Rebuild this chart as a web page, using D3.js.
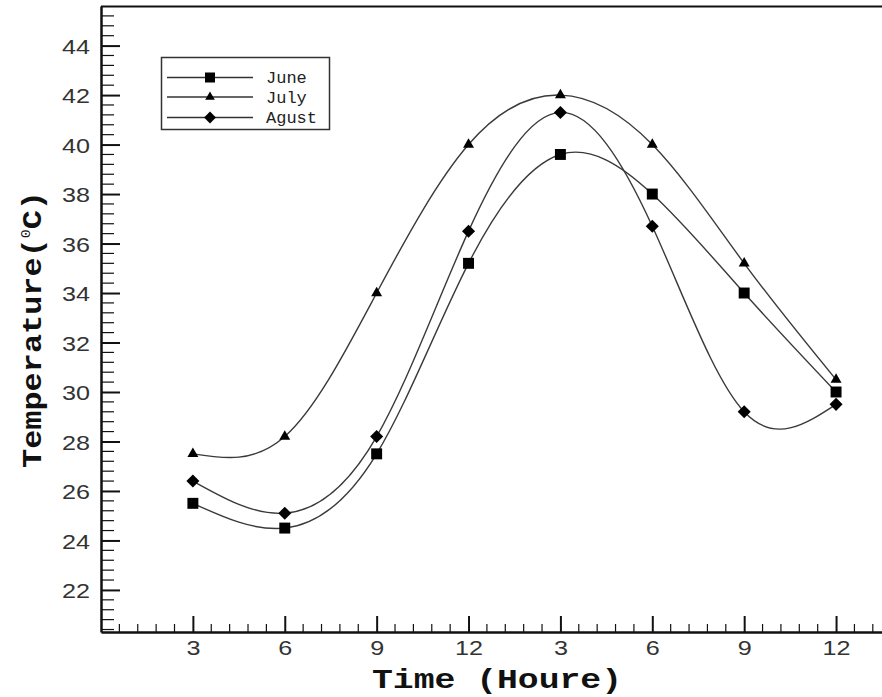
<!DOCTYPE html>
<html lang="en">
  <head>
    <meta charset="utf-8">
    <title>Temperature by hour</title>
    <script src="https://d3js.org/d3.v7.min.js"></script>
    <style>
      body { margin: 0; background: #fff; }
    </style>
  </head>
  <body>
    <svg id="chart" width="882" height="697"></svg>
    <script type="text/javascript">
      // hours on a running clock, labelled 3..12 twice
      var hours = [3, 6, 9, 12, 15, 18, 21, 24];
      var june = [25.5, 24.5, 27.5, 35.2, 39.6, 38.0, 34.0, 30.0];
      var july = [27.5, 28.2, 34.0, 40.0, 42.0, 40.0, 35.2, 30.5];
      var agust = [26.4, 25.1, 28.2, 36.5, 41.3, 36.7, 29.2, 29.5];
      var seriesNames = ["June", "July", "Agust"];
      var xTicks = [3, 6, 9, 12, 15, 18, 21, 24];
      var yTicks = [22, 24, 26, 28, 30, 32, 34, 36, 38, 40, 42, 44];

      var svg = d3.select("svg#chart");

      var xScale = d3.scaleLinear().domain([0, 25.5]).range([101, 882]);
      var yScale = d3.scaleLinear().domain([20.3, 45.6]).range([632, 6]);

      // frame: top line
      svg.append("line").attr("x1", 101).attr("x2", 882).attr("y1", 6.5).attr("y2", 6.5)
        .attr("stroke", "#111").attr("stroke-width", 2);

      // minor ticks
      var xMinor = d3.range(1, 43).map(i => +(i * 0.6).toFixed(1)).filter(v => v % 3 != 0);
      var yMinor = d3.range(1, 64).map(i => +(20.0 + i * 0.4).toFixed(1)).filter(v => v >= 20.4 && v <= 45.6 && Math.round(v * 10) % 20 != 0);

      var xAxis = d3.axisBottom(xScale).tickValues(xTicks).tickSize(-16).tickSizeOuter(0)
        .tickFormat(d => ((d - 1) % 12) + 1).tickPadding(19);
      var yAxis = d3.axisLeft(yScale).tickValues(yTicks).tickSize(-19).tickSizeOuter(0).tickPadding(11);

      svg.append("g").attr("class", "minor")
        .selectAll("line").data(xMinor).enter().append("line")
        .attr("x1", d => xScale(d)).attr("x2", d => xScale(d))
        .attr("y1", 632).attr("y2", 624).attr("stroke", "#111").attr("stroke-width", 1.2);
      svg.append("g").attr("class", "minor")
        .selectAll("line").data(yMinor).enter().append("line")
        .attr("x1", 101).attr("x2", 114)
        .attr("y1", d => yScale(d)).attr("y2", d => yScale(d)).attr("stroke", "#111").attr("stroke-width", 1.2);

      var gx = svg.append("g").attr("transform", "translate(0,632)").call(xAxis);
      var gy = svg.append("g").attr("transform", "translate(101,0)").call(yAxis);
      [gx, gy].forEach(function (g) {
        g.select(".domain").attr("stroke", "#111").attr("stroke-width", 2.5);
        g.selectAll(".tick line").attr("stroke", "#111").attr("stroke-width", 2);
        g.selectAll(".tick text").attr("fill", "#333")
          .style("font", "21px 'Liberation Sans', Arial, sans-serif")
          .attr("textLength", function () { return this.textContent.length * 14; })
          .attr("lengthAdjust", "spacingAndGlyphs");
      });
      gx.selectAll(".tick text").attr("dy", "0.2em");
      gy.selectAll(".tick text").attr("dy", "0.36em");

      // curves
      var series = [
        { name: "June", values: june, shape: d3.symbolSquare, size: 120, rot: 0 },
        { name: "July", values: july, shape: d3.symbolTriangle, size: 52, rot: 0 },
        { name: "Agust", values: agust, shape: d3.symbolSquare, size: 85, rot: 45 }
      ];

      var line = d3.line().x(d => xScale(d[0])).y(d => yScale(d[1])).curve(d3.curveNatural);

      var plot = svg.append("g").attr("id", "plot");
      series.forEach(function (s) {
        var pts = hours.map((h, i) => [h, s.values[i]]);
        plot.append("path").datum(pts).attr("d", line)
          .attr("fill", "none").attr("stroke", "#3a3a3a").attr("stroke-width", 1.4);
        plot.selectAll("path.m" + s.name).data(pts).enter().append("path")
          .attr("class", "m" + s.name)
          .attr("transform", d => "translate(" + xScale(d[0]) + "," + yScale(d[1]) + ") rotate(" + s.rot + ")")
          .attr("d", d3.symbol().type(s.shape).size(s.size)).attr("fill", "#000");
      });

      // legend
      var legend = svg.append("g").attr("id", "legend");
      legend.append("rect").attr("x", 161.5).attr("y", 57.5).attr("width", 168).attr("height", 72)
        .attr("fill", "#fff").attr("stroke", "#333").attr("stroke-width", 1.5);
      var rowY = [77.5, 97, 117.5];
      var legendSize = [100, 40, 70];
      series.forEach(function (s, i) {
        legend.append("line").attr("x1", 167).attr("x2", 253).attr("y1", rowY[i]).attr("y2", rowY[i])
          .attr("stroke", "#333").attr("stroke-width", 1.3);
        legend.append("path").attr("transform", "translate(210," + rowY[i] + ") rotate(" + s.rot + ")")
          .attr("d", d3.symbol().type(s.shape).size(legendSize[i])).attr("fill", "#000");
        legend.append("text").attr("x", 266).attr("y", rowY[i] + 5.5)
          .style("font", "17px 'Liberation Mono', 'Courier New', monospace").attr("fill", "#222")
          .text(seriesNames[i]);
      });

      // axis titles
      svg.append("text").attr("x", 372).attr("y", 688)
        .attr("textLength", 250).attr("lengthAdjust", "spacingAndGlyphs")
        .style("font", "bold 27px 'Liberation Mono', 'Courier New', monospace").attr("fill", "#111")
        .text("Time (Houre)");

      var yt = svg.append("text").attr("transform", "translate(41,468) rotate(-90)")
        .attr("textLength", 277).attr("lengthAdjust", "spacingAndGlyphs")
        .style("font", "bold 28px 'Liberation Mono', 'Courier New', monospace").attr("fill", "#111");
      yt.append("tspan").text("Temperature(");
      yt.append("tspan").attr("dy", -11).style("font-size", "13px").style("font-weight", "normal").text("0");
      yt.append("tspan").attr("dy", 11).text("C)");
    </script>
  </body>
</html>
